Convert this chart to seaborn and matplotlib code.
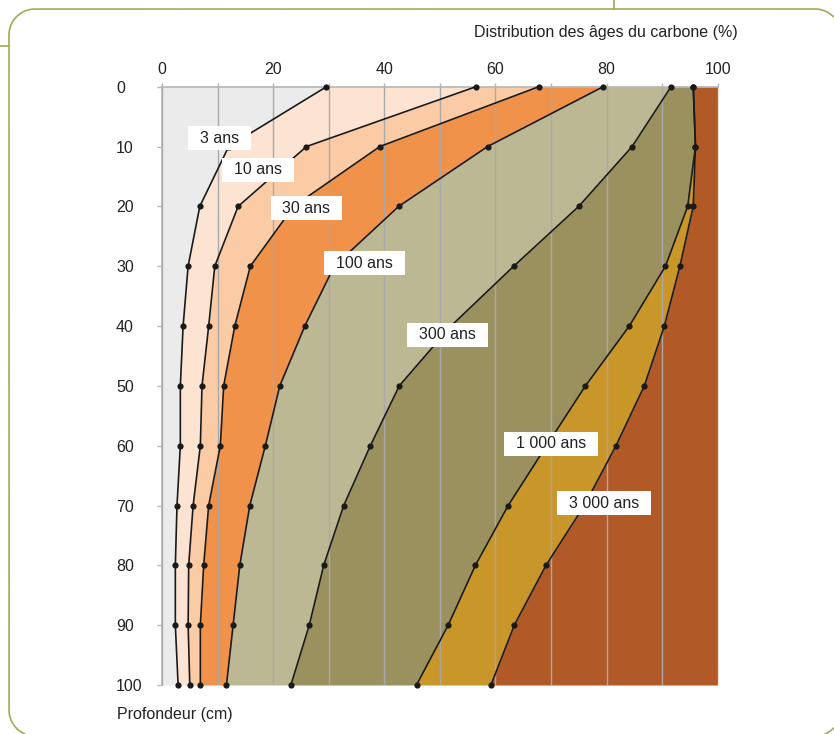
import numpy as np
import pandas as pd
import matplotlib.pyplot as plt
import seaborn as sns
from matplotlib.lines import Line2D
from matplotlib.transforms import IdentityTransform


# 1 Data (cumulative % of carbon younger than each age, by depth)

depth = [0, 10, 20, 30, 40, 50, 60, 70, 80, 90, 100]

ans3 = [29.6, 12.0, 6.8, 4.7, 3.8, 3.3, 3.3, 2.7, 2.4, 2.4, 2.9]
ans10 = [56.5, 26.0, 13.7, 9.5, 8.4, 7.2, 6.9, 5.6, 4.8, 4.7, 5.0]
ans30 = [67.8, 39.2, 23.7, 15.9, 13.1, 11.1, 10.5, 8.4, 7.5, 6.9, 6.9]
ans100 = [79.4, 58.6, 42.6, 31.0, 25.7, 21.2, 18.6, 15.8, 14.0, 12.8, 11.6]
ans300 = [91.6, 84.6, 75.0, 63.3, 52.0, 42.7, 37.5, 32.7, 29.1, 26.5, 23.2]
ans1000 = [95.6, 96.0, 94.6, 90.6, 84.1, 76.2, 69.2, 62.3, 56.4, 51.5, 45.8]
ans3000 = [95.6, 96.0, 95.6, 93.2, 90.4, 86.8, 81.7, 76.0, 69.1, 63.4, 59.2]

age_labels = ["3 ans", "10 ans", "30 ans", "100 ans", "300 ans", "1 000 ans", "3 000 ans"]
label_x = [10.4, 17.2, 26.0, 36.5, 51.4, 70.0, 79.5]
label_y = [8.6, 13.9, 20.3, 29.5, 41.5, 59.7, 69.6]

band_colors = ["#ebebeb", "#fde4d2", "#fbcba5", "#f0924a",
               "#bcb893", "#9a915f", "#c9962a", "#b15a27"]


# 2 Style

sns.set_style("white")
plt.rcParams['font.family'] = ['Liberation Sans', 'DejaVu Sans']
text_col = "#222222"
axis_col = "#b5b5b5"
fs = 11.5

fig = plt.figure(figsize=(8.34, 7.34), dpi=100)
fig.patch.set_facecolor("white")
ax = fig.add_axes([162 / 834, 1 - 685 / 734, (717.7 - 162) / 834, (685 - 86.7) / 734])


# 3 Filled bands + curves

curves = [ans3, ans10, ans30, ans100, ans300, ans1000, ans3000]
bounds = [[0] * len(depth)] + curves + [[100] * len(depth)]

for i in range(len(bounds) - 1):
    ax.fill_betweenx(depth, bounds[i], bounds[i + 1], color=band_colors[i], lw=0, zorder=1)

for c in curves:
    sns.lineplot(x=c, y=depth, sort=False, estimator=None, color="#1a1a1a", lw=1.2,
                 marker="o", markersize=4.5, markeredgewidth=0, ax=ax, zorder=3,
                 clip_on=False)

for lab, lx, ly in zip(age_labels, label_x, label_y):
    ax.text(lx, ly, lab, ha="center", va="center", fontsize=fs, color=text_col, zorder=6,
            bbox=dict(boxstyle="square,pad=0.75", mutation_aspect=0.37, fc="white", ec="none"))


# 4 Axes

ax.set_xlim(0, 100)
ax.set_ylim(100, 0)
ax.xaxis.tick_top()
ax.set_xticks(range(0, 101, 20))
ax.set_xticks(range(10, 100, 20), minor=True)
ax.set_yticks(range(0, 101, 10))
ax.set_xlabel("")
ax.set_ylabel("")

ax.grid(axis="x", which="both", color="#a9a9a9", lw=1)
ax.set_axisbelow(False)

for s in ["right", "bottom"]:
    ax.spines[s].set_visible(False)
for s in ["top", "left"]:
    ax.spines[s].set_color(axis_col)
    ax.spines[s].set_linewidth(1.2)

ax.tick_params(axis="x", which="both", top=True, bottom=False, length=3, width=1,
               color=axis_col, labelsize=fs, labelcolor=text_col, pad=4)
ax.tick_params(axis="y", left=True, length=3.6, width=1, color=axis_col,
               labelsize=fs, labelcolor=text_col, pad=29.5)
plt.setp(ax.get_yticklabels(), ha="left")

fig.text(738 / 834, 1 - 32 / 734, "Distribution des âges du carbone (%)",
         ha="right", va="center", fontsize=fs, color=text_col)
fig.text(117 / 834, 1 - 715 / 734, "Profondeur (cm)",
         ha="left", va="center", fontsize=fs, color=text_col)


# 5 Green page frame (rounded rectangle, partly off the page)

frame_col = "#9cad55"
left, right, bottom, top, r = 9, 841, -2, 725, 26
t = np.linspace(0, np.pi / 2, 60)
corners = [
    (right - r, top - r, t),                      # top right
    (left + r, top - r, t + np.pi / 2),           # top left
    (left + r, bottom + r, t + np.pi),            # bottom left
    (right - r, bottom + r, t + 3 * np.pi / 2),   # bottom right
]
fx, fy = [], []
for cx, cy, ang in corners:
    fx.extend(cx + r * np.cos(ang))
    fy.extend(cy + r * np.sin(ang))
fx.append(fx[0])
fy.append(fy[0])
fx = np.array(fx)
fy = np.array(fy)

# densify edges, then hide what falls outside the page
dense_x, dense_y = [], []
for k in range(len(fx) - 1):
    n = max(2, int(np.hypot(fx[k + 1] - fx[k], fy[k + 1] - fy[k]) / 2))
    dense_x.extend(np.linspace(fx[k], fx[k + 1], n)[:-1])
    dense_y.extend(np.linspace(fy[k], fy[k + 1], n)[:-1])
dense_x = np.array(dense_x)
dense_y = np.array(dense_y)
outside = (dense_x > 834) | (dense_x < 0) | (dense_y < 0) | (dense_y > 734)
dense_x[outside] = np.nan
dense_y[outside] = np.nan

fig.add_artist(Line2D(dense_x, dense_y, color=frame_col, lw=1.2, transform=IdentityTransform()))
fig.add_artist(Line2D([614, 614], [725, 734], color=frame_col, lw=1.2,
                      transform=IdentityTransform()))
fig.add_artist(Line2D([0, 9], [688, 688], color=frame_col, lw=1.2,
                      transform=IdentityTransform()))

fig.savefig("out.png", dpi=100)
